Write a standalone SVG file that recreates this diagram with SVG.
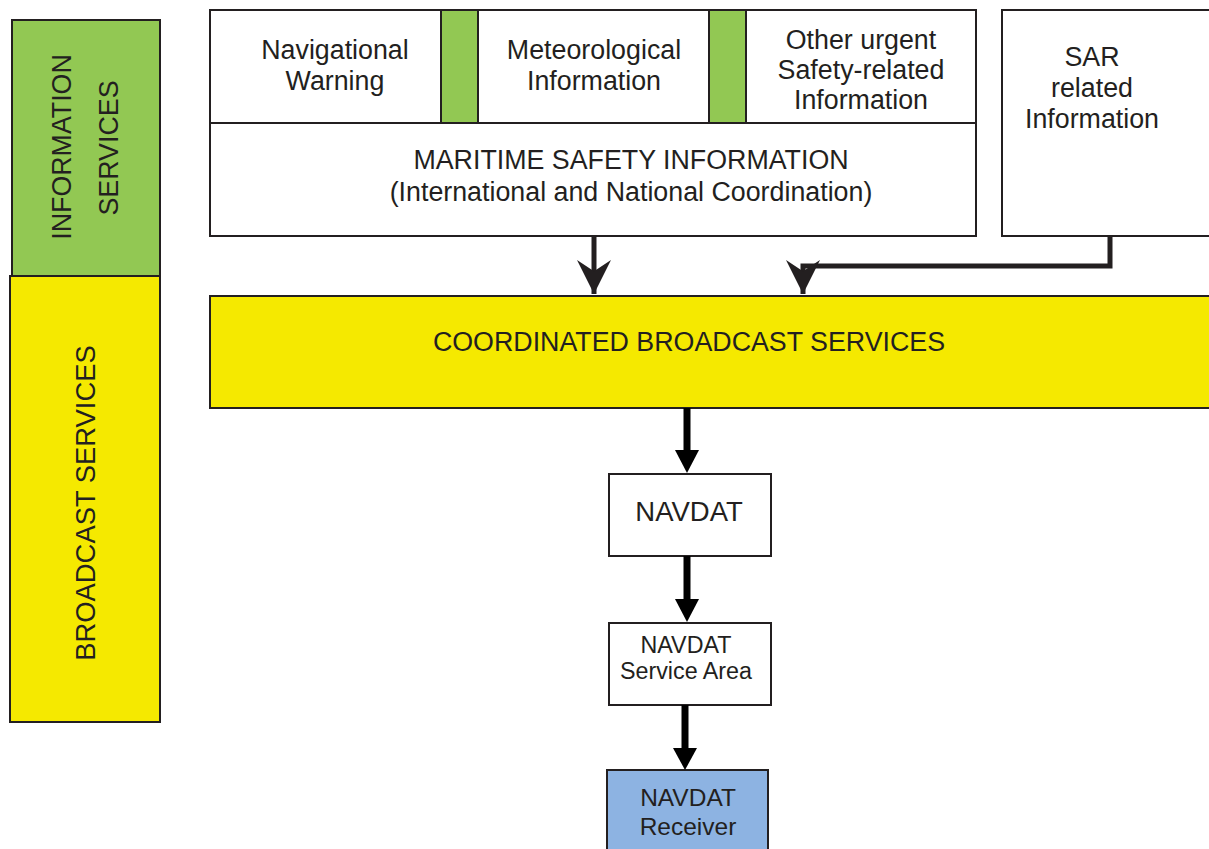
<svg xmlns="http://www.w3.org/2000/svg" width="1209" height="849" viewBox="0 0 1209 849">
<style>
.b{stroke:#231f20;stroke-width:2}
.w{fill:#fff}
.g{fill:#92c853}
.y{fill:#f5e900}
.t{font-family:"Liberation Sans",Arial,Helvetica,sans-serif;font-size:26.8px;fill:#231f20;text-anchor:middle}
.c{stroke:#231f20;stroke-width:5;fill:none}
.k{stroke:#000;stroke-width:7;fill:none}
</style>
<defs>
<marker id="barb" markerUnits="userSpaceOnUse" markerWidth="34" markerHeight="34" refX="30" refY="15" orient="auto" viewBox="0 0 30 30">
<path d="M0,0 L30,15 L0,30 L10,15 Z" fill="#231f20"/>
</marker>
</defs>
<g id="info-services">
<rect x="12" y="20" width="148" height="256" class="b g"/>
<text class="t" transform="translate(71,147) rotate(-90)">INFORMATION</text>
<text class="t" transform="translate(118,148) rotate(-90)">SERVICES</text>
</g>
<g id="broadcast-services">
<rect x="10" y="276" width="150" height="446" class="b y"/>
<text class="t" style="font-size:27.4px" transform="translate(95,503) rotate(-90)">BROADCAST SERVICES</text>
</g>
<g id="nav-warning">
<rect x="210" y="10" width="231" height="113" class="b w"/>
<text class="t" x="335" y="59">Navigational</text>
<text class="t" x="335" y="90">Warning</text>
</g>
<g id="sep1"><rect x="441" y="10" width="37" height="113" class="b g"/></g>
<g id="met-info">
<rect x="478" y="10" width="231" height="113" class="b w"/>
<text class="t" x="594" y="59">Meteorological</text>
<text class="t" x="594" y="90">Information</text>
</g>
<g id="sep2"><rect x="709" y="10" width="37" height="113" class="b g"/></g>
<g id="other-urgent">
<rect x="746" y="10" width="230" height="113" class="b w"/>
<text class="t" x="861" y="49">Other urgent</text>
<text class="t" x="861" y="79">Safety-related</text>
<text class="t" x="861" y="109">Information</text>
</g>
<g id="msi">
<rect x="210" y="123" width="766" height="113" class="b w"/>
<text class="t" x="631" y="169">MARITIME SAFETY INFORMATION</text>
<text class="t" x="631" y="201">(International and National Coordination)</text>
</g>
<g id="sar">
<rect x="1002" y="10" width="220" height="226" class="b w"/>
<text class="t" x="1092" y="66">SAR</text>
<text class="t" x="1092" y="97">related</text>
<text class="t" x="1092" y="128">Information</text>
</g>
<g id="cbs">
<rect x="210" y="296" width="1012" height="112" class="b y"/>
<text class="t" x="689" y="351">COORDINATED BROADCAST SERVICES</text>
</g>
<g id="navdat">
<rect x="609" y="474" width="162" height="82" class="b w"/>
<text class="t" style="font-size:27.5px" x="689" y="521">NAVDAT</text>
</g>
<g id="service-area">
<rect x="609" y="623" width="162" height="82" class="b w"/>
<text class="t" style="font-size:23.3px" x="686" y="653">NAVDAT</text>
<text class="t" style="font-size:23.3px" x="686" y="679">Service Area</text>
</g>
<g id="receiver">
<rect x="607" y="770" width="161" height="90" class="b" fill="#8db3e2"/>
<text class="t" style="font-size:24.5px" x="688" y="806">NAVDAT</text>
<text class="t" style="font-size:24.5px" x="688" y="835">Receiver</text>
</g>
<g id="connectors">
<path class="c" d="M594,236 V294" marker-end="url(#barb)"/>
<path class="c" d="M1110,236 V266 H803 V294" marker-end="url(#barb)"/>
<path class="k" d="M687,408 V452"/>
<path d="M675,450 L699,450 L687,473 Z" fill="#000"/>
<path class="k" d="M687,556 V601"/>
<path d="M675,599 L699,599 L687,622 Z" fill="#000"/>
<path class="k" d="M685,705 V750"/>
<path d="M673,748 L697,748 L685,770 Z" fill="#000"/>
</g>
</svg>
